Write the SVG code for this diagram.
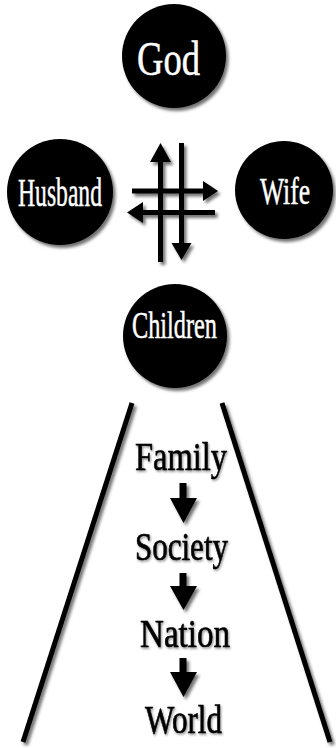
<svg xmlns="http://www.w3.org/2000/svg" width="336" height="748" viewBox="0 0 336 748">
  <defs>
    <filter id="sh" x="-20%" y="-20%" width="150%" height="150%">
      <feDropShadow dx="2.5" dy="3" stdDeviation="1.8" flood-color="#000" flood-opacity="0.55"/>
    </filter>
    <filter id="tsh" x="-10%" y="-20%" width="130%" height="150%">
      <feDropShadow dx="1" dy="1.5" stdDeviation="0.8" flood-color="#000" flood-opacity="0.45"/>
    </filter>
  </defs>
  <style>
    .node { fill: #000; filter: url(#sh); }
    .nt { fill: #fff; stroke: #fff; stroke-width: 0.5; font-family: "Liberation Serif", "DejaVu Serif", serif; }
    .lt { fill: #000; stroke: #000; stroke-width: 0.6; font-family: "Liberation Serif", "DejaVu Serif", serif; filter: url(#tsh); }
    .shaft { stroke: #000; stroke-width: 5; fill: none; }
    .head { fill: #000; }
    .frame { stroke: #000; stroke-width: 5; fill: none; stroke-linecap: butt; }
  </style>
  <rect width="336" height="748" fill="#fff"/>

  <g id="god">
    <circle class="node" cx="174" cy="56" r="52"/>
    <text class="nt" x="137" y="75" font-size="48" textLength="63" lengthAdjust="spacingAndGlyphs">God</text>
  </g>
  <g id="husband">
    <circle class="node" cx="60" cy="192" r="53"/>
    <text class="nt" x="18" y="206" font-size="39" textLength="84" lengthAdjust="spacingAndGlyphs">Husband</text>
  </g>
  <g id="wife">
    <circle class="node" cx="284" cy="190" r="49"/>
    <text class="nt" x="260" y="204" font-size="37" textLength="50" lengthAdjust="spacingAndGlyphs">Wife</text>
  </g>
  <g id="children">
    <circle class="node" cx="175" cy="336" r="52"/>
    <text class="nt" x="132" y="338" font-size="38" textLength="85" lengthAdjust="spacingAndGlyphs">Children</text>
  </g>

  <g id="funnel" filter="url(#sh)">
    <line class="frame" x1="132" y1="403" x2="23" y2="742"/>
    <line class="frame" x1="222" y1="403" x2="330" y2="742"/>
  </g>

  <g id="family"><text class="lt" x="135" y="470" font-size="41" textLength="92" lengthAdjust="spacingAndGlyphs">Family</text></g>
  <g id="society"><text class="lt" x="135" y="560" font-size="39" textLength="93" lengthAdjust="spacingAndGlyphs">Society</text></g>
  <g id="nation"><text class="lt" x="140" y="647" font-size="39" textLength="90" lengthAdjust="spacingAndGlyphs">Nation</text></g>
  <g id="world"><text class="lt" x="145" y="733" font-size="39" textLength="77" lengthAdjust="spacingAndGlyphs">World</text></g>

  <g id="connectors" filter="url(#sh)">
    <line class="shaft" x1="160.5" y1="262" x2="160.5" y2="158"/>
    <polygon class="head" points="160.5,143 150,162 171,162"/>
    <line class="shaft" x1="181.5" y1="143" x2="181.5" y2="246"/>
    <polygon class="head" points="181.5,260 171.5,243 191.5,243"/>
    <line class="shaft" x1="132" y1="191" x2="205" y2="191"/>
    <polygon class="head" points="218,191 203,181 203,201"/>
    <line class="shaft" x1="215" y1="212.5" x2="141" y2="212.5"/>
    <polygon class="head" points="127,212.5 143,202 143,223"/>
    <line x1="183" y1="483" x2="183" y2="500" stroke="#000" stroke-width="7"/>
    <polygon class="head" points="170,498 197,498 183.5,523"/>
    <line x1="183" y1="573" x2="183" y2="588" stroke="#000" stroke-width="7"/>
    <polygon class="head" points="170,586 197,586 183.5,610"/>
    <line x1="183" y1="658" x2="183" y2="674" stroke="#000" stroke-width="7"/>
    <polygon class="head" points="170,672 197,672 183.5,697"/>
  </g>
</svg>
